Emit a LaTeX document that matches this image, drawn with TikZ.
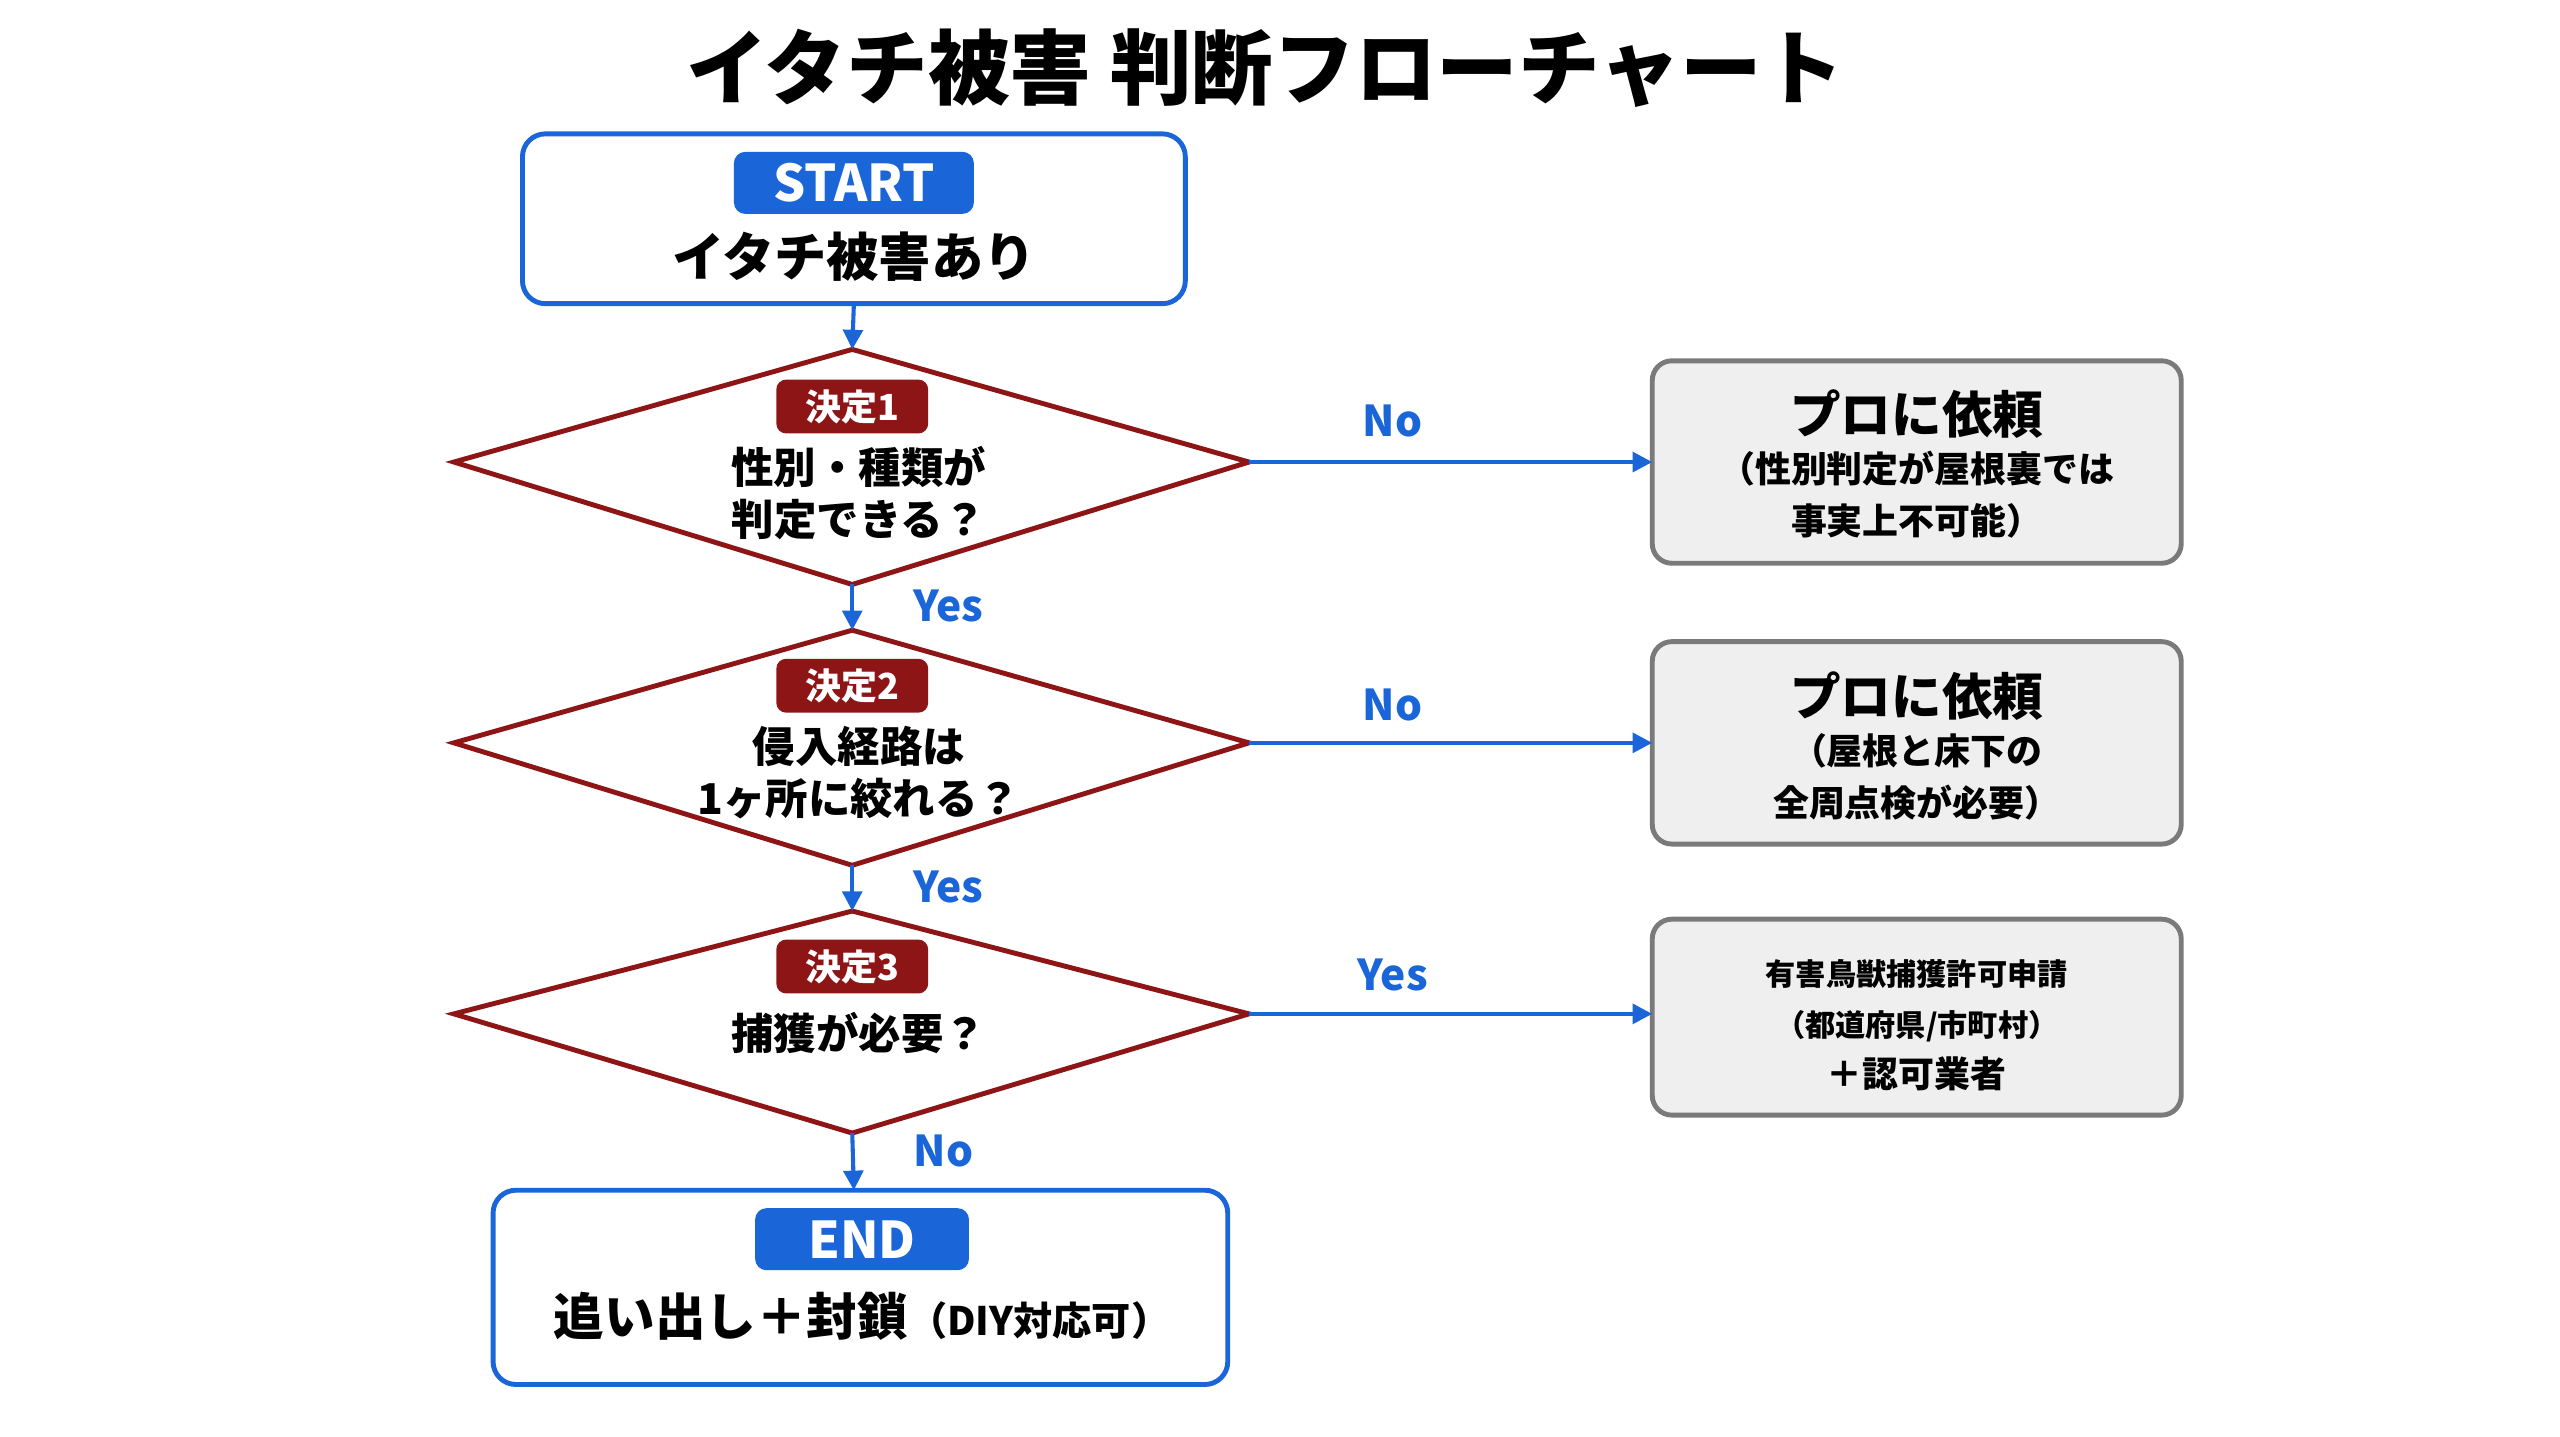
\documentclass[tikz,border=0pt]{standalone}
\usepackage{fontspec}
\setmainfont{Noto Sans CJK JP}
\usetikzlibrary{shapes.geometric,arrows.meta}
\definecolor{fblue}{HTML}{1A66D9}
\definecolor{fred}{HTML}{8E1515}
\definecolor{fgray}{HTML}{EFEFEF}
\definecolor{fgborder}{HTML}{7A7A7A}
\begin{document}
\begin{tikzpicture}[x=1pt,y=-1pt,
  every node/.style={inner sep=0pt,outer sep=0pt},
  bbox/.style={draw=fblue,line width=3pt,rounded corners=14pt},
  gbox/.style={draw=fgborder,fill=fgray,line width=3pt,rounded corners=12pt},
  dia/.style={draw=fred,line width=3pt},
  pill/.style={fill=fblue,rounded corners=7pt,text=white,font=\fontsize{31}{31}\selectfont\bfseries},
  rpill/.style={fill=fred,rounded corners=6pt,text=white,font=\fontsize{22}{22}\selectfont\bfseries,minimum width=93pt,minimum height=33pt},
  txt/.style={font=\fontsize{26}{32}\selectfont\bfseries,align=center},
  lab/.style={text=fblue,font=\fontsize{26}{26}\selectfont\bfseries},
  arr/.style={draw=fblue,line width=2.5pt,-{Triangle[length=12pt,width=12pt]}}]
\useasboundingbox (0,0) rectangle (1568,880);
\fill[white] (0,0) rectangle (1568,880);
\node[font=\fontsize{50}{50}\selectfont\bfseries] (title) at (775,42) {イタチ被害\ 判断フローチャート};
% start
\draw[bbox] (320,82) rectangle (726,186);
\coordinate (sb) at (523,186);
\node[pill,minimum width=147pt,minimum height=38pt] (sp) at (523,112) {START};
\node[font=\fontsize{32}{32}\selectfont\bfseries] (st) at (523,157) {イタチ被害あり};
% diamonds
\draw[dia] (278,283) -- (522,214) -- (765,283) -- (522,358) -- cycle;
\coordinate (d1t) at (522,214); \coordinate (d1b) at (522,358); \coordinate (d1r) at (765,283);
\node[rpill] (p1) at (522,249) {決定1};
\node[txt] (t1) at (526,302) {性別・種類が\\判定できる？};
\draw[dia] (278,455) -- (522,386) -- (765,455) -- (522,530) -- cycle;
\coordinate (d2t) at (522,386); \coordinate (d2b) at (522,530); \coordinate (d2r) at (765,455);
\node[rpill] (p2) at (522,420) {決定2};
\node[txt] (t2) at (526,473) {侵入経路は\\1ヶ所に絞れる？};
\draw[dia] (278,621) -- (522,558) -- (765,621) -- (522,694) -- cycle;
\coordinate (d3t) at (522,558); \coordinate (d3b) at (522,694); \coordinate (d3r) at (765,621);
\node[rpill] (p3) at (522,592) {決定3};
\node[txt] (t3) at (526,633) {捕獲が必要？};
% end
\draw[bbox] (302,729) rectangle (752,848);
\coordinate (et) at (523,729);
\node[pill,minimum width=131pt,minimum height=38pt] (ep) at (528,759) {END};
\node[font=\fontsize{31}{31}\selectfont\bfseries] (etx) at (528,806) {追い出し＋封鎖{\fontsize{24}{24}\selectfont（DIY対応可）}};
% right boxes
\draw[gbox] (1012,221) rectangle (1336,345); \coordinate (b1) at (1012,283);
\node[txt] (bt1) at (1174,284) {{\fontsize{31}{34}\selectfont プロに依頼}\\[-2pt]{\fontsize{22}{31}\selectfont （性別判定が屋根裏では}\\{\fontsize{22}{31}\selectfont 事実上不可能）}};
\draw[gbox] (1012,393) rectangle (1336,517); \coordinate (b2) at (1012,455);
\node[txt] (bt2) at (1174,457) {{\fontsize{31}{34}\selectfont プロに依頼}\\[-2pt]{\fontsize{22}{31}\selectfont （屋根と床下の}\\{\fontsize{22}{31}\selectfont 全周点検が必要）}};
\draw[gbox] (1012,563) rectangle (1336,683); \coordinate (b3) at (1012,621);
\node[txt,font=\fontsize{18.5}{31}\selectfont\bfseries] (bt3) at (1174,628) {有害鳥獣捕獲許可申請\\（都道府県/市町村）\\{\fontsize{22}{31}\selectfont ＋認可業者}};
% arrows
\draw[arr] (sb) -- (d1t);
\draw[arr] (d1b) -- (d2t);
\draw[arr] (d2b) -- (d3t);
\draw[arr] (d3b) -- (et);
\draw[arr] (d1r) -- (b1);
\draw[arr] (d2r) -- (b2);
\draw[arr] (d3r) -- (b3);
\node[lab] (n1) at (853,258) {No};
\node[lab] (n2) at (853,432) {No};
\node[lab] (y3) at (853,597) {Yes};
\node[lab] (y1) at (581,371) {Yes};
\node[lab] (y2) at (581,543) {Yes};
\node[lab] (n3) at (578,705) {No};
\end{tikzpicture}
\end{document}
